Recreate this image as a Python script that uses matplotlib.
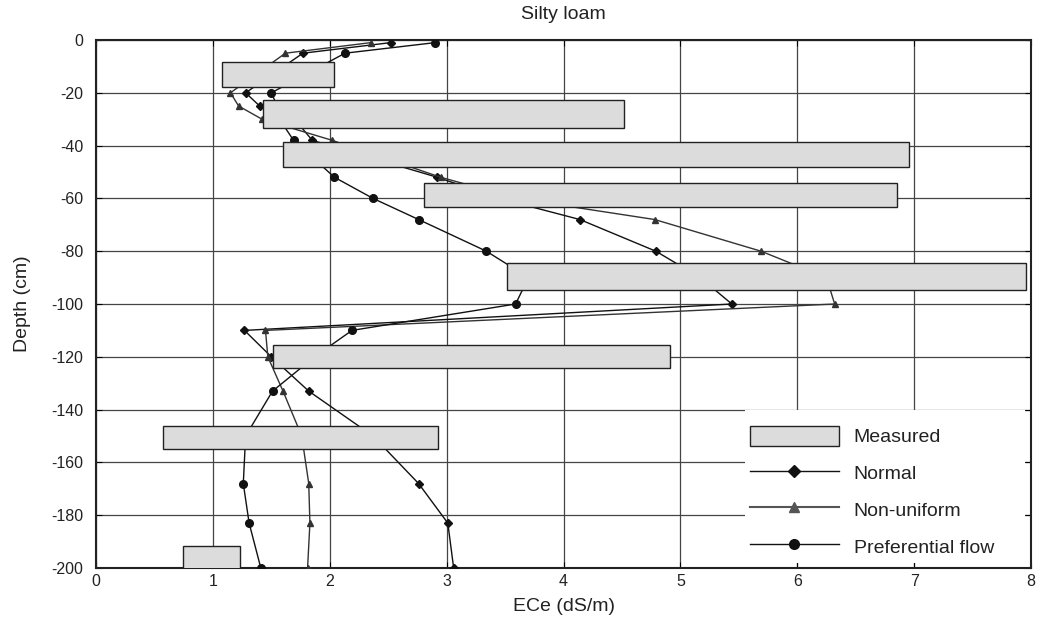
import numpy as np
import matplotlib
matplotlib.use('Agg')
import matplotlib.pyplot as plt
from matplotlib.patches import Patch, Rectangle
from matplotlib.lines import Line2D

plt.rcParams['font.family'] = ['Liberation Sans', 'DejaVu Sans']
plt.rcParams['axes.unicode_minus'] = False

# measured ranges (ECe min/max over a depth interval)
meas_left = [1.08, 1.43, 1.60, 2.81, 3.52, 1.51, 0.57, 0.74]
meas_right = [2.04, 4.52, 6.96, 6.85, 7.96, 4.91, 2.93, 1.23]
meas_top = [-8.5, -22.8, -38.6, -54.1, -84.4, -115.5, -146.2, -191.7]
meas_bottom = [-17.8, -33.3, -48.1, -63.2, -94.7, -124.2, -154.9, -201.0]

# simulated profiles
depth = [-1, -5, -20, -25, -30, -38, -52, -60, -68, -80, -90, -100,
         -110, -120, -133, -150, -168, -183, -200]
normal = [2.52, 1.77, 1.28, 1.40, 1.70, 1.85, 2.92, 3.45, 4.14, 4.79, 5.17, 5.44,
          1.27, 1.50, 1.82, 2.37, 2.76, 3.01, 3.06]
nonuniform = [2.35, 1.62, 1.15, 1.22, 1.42, 2.02, 2.95, 3.60, 4.78, 5.69, 6.25, 6.32,
              1.45, 1.47, 1.60, 1.76, 1.82, 1.83, 1.81]
preferential = [2.90, 2.13, 1.50, 1.55, 1.57, 1.69, 2.04, 2.37, 2.76, 3.34, 3.70, 3.59,
                2.19, 1.87, 1.51, 1.28, 1.26, 1.31, 1.41]

fig = plt.figure(figsize=(10.45, 6.3), dpi=100)
ax = fig.add_axes([0.0919, 0.0984, 0.8947, 0.8381])

txt = '#222222'
ax.plot(normal, depth, color='#111111', lw=1.0, marker='D', ms=4.5, zorder=3)
ax.plot(nonuniform, depth, color='#333333', lw=1.0, marker='^', ms=5, zorder=3)
ax.plot(preferential, depth, color='#111111', lw=1.0, marker='o', ms=5.5, zorder=3)

mt = np.array(meas_top)
mb = np.array(meas_bottom)
ml = np.array(meas_left)
mr = np.array(meas_right)
ax.barh((mt + mb) / 2, mr - ml, left=ml, height=mt - mb,
        color='#dcdcdc', edgecolor='#222222', linewidth=1.0, zorder=4)

ax.set_xlim(0, 8)
ax.set_ylim(-200, 0)
ax.set_xticks(range(0, 9))
ax.set_yticks(range(-200, 1, 20))
ax.grid(True, color='#444444', lw=0.9)
ax.set_axisbelow(True)
ax.tick_params(direction='in', top=True, right=True, labelsize=11.5,
               labelcolor=txt, length=4)
ax.tick_params(axis='x', pad=4)
ax.tick_params(axis='y', pad=9)
for s in ax.spines.values():
    s.set_linewidth(1.5)
    s.set_color('#222222')

ax.set_title('Silty loam', fontsize=14, color=txt, pad=15)
ax.set_xlabel('ECe (dS/m)', fontsize=14, color=txt)
ax.set_ylabel('Depth (cm)', fontsize=14, color=txt)
ax.xaxis.set_label_coords(0.5, -0.057)
ax.yaxis.set_label_coords(-0.07, 0.5)

# white area behind the legend (covers the grid)
ax.add_patch(Rectangle((0.694, 0.0095), 0.3, 0.29, transform=ax.transAxes,
                       facecolor='white', edgecolor='none', zorder=1.5))

handles = [
    Patch(facecolor='#dcdcdc', edgecolor='#222222', linewidth=1.0),
    Line2D([], [], color='#111111', lw=1.0, marker='D', ms=6.5),
    Line2D([], [], color='#555555', lw=1.5, marker='^', ms=6.5),
    Line2D([], [], color='#111111', lw=1.0, marker='o', ms=7),
]
labels = ['Measured', 'Normal', 'Non-uniform', 'Preferential flow']
leg = ax.legend(handles, labels, loc='upper left', bbox_to_anchor=(0.694, 0.279),
                fontsize=14, handlelength=4.6, handleheight=1.25, labelspacing=0.82,
                handletextpad=0.75, borderpad=0.25, borderaxespad=0, frameon=False)
for t in leg.get_texts():
    t.set_color(txt)

fig.savefig('out.png', dpi=100)
